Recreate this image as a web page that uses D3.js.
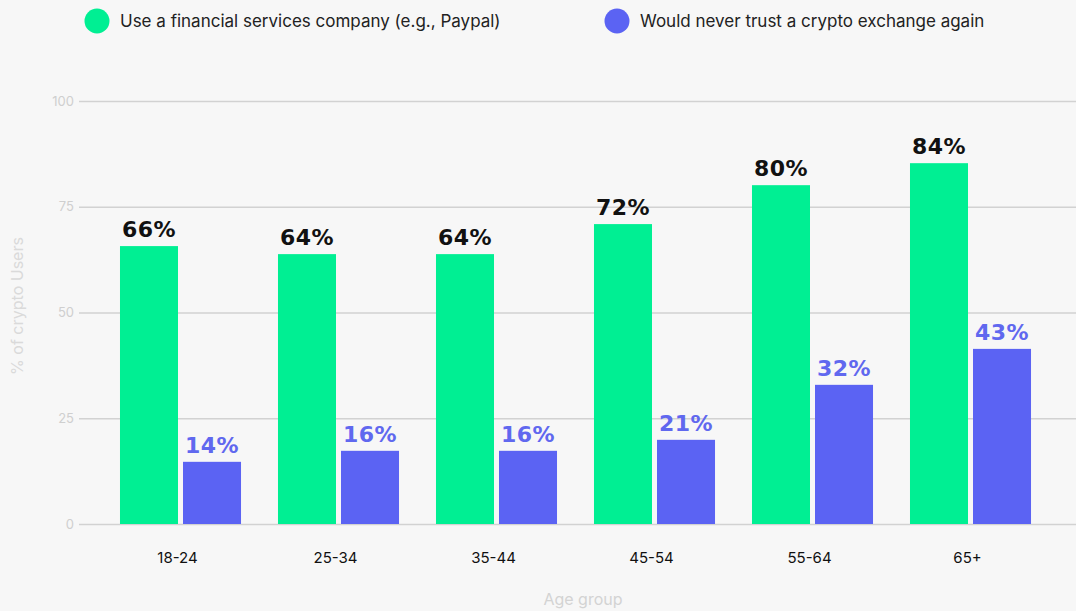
<!DOCTYPE html>
<html>
<head>
<meta charset="utf-8">
<script src="https://cdn.jsdelivr.net/npm/d3@7"></script>
<style>
  body { margin: 0; background: #f7f7f7; }
  svg { display: block; font-family: Inter, "Open Sans", sans-serif; }
</style>
</head>
<body>
<svg id="chart"></svg>
<script>
var w = 1076;
var h = 611;

// data
var ageGroups = ["18-24", "25-34", "35-44", "45-54", "55-64", "65+"];
var seriesNames = ["Use a financial services company (e.g., Paypal)", "Would never trust a crypto exchange again"];
var financialVals = [65.7, 63.8, 63.8, 70.9, 80.1, 85.3];
var neverTrustVals = [14.7, 17.3, 17.3, 19.9, 32.9, 41.4];
var financialLabels = ["66%", "64%", "64%", "72%", "80%", "84%"];
var neverTrustLabels = ["14%", "16%", "16%", "21%", "32%", "43%"];
var yTicks = [0, 25, 50, 75, 100];

var colors = ["#00ef93", "#5b63f3"];
var labelColors = ["#111111", "#6068ef"];

var svg = d3.select("#chart")
	.attr("width", w)
	.attr("height", h);

svg.append("rect")
	.attr("width", w)
	.attr("height", h)
	.attr("fill", "#f7f7f7");

var y = d3.scaleLinear()
	.domain([0, 100])
	.range([524, 101]);

var x = d3.scaleBand()
	.domain(ageGroups)
	.range([101.5, 1049.5])
	.paddingInner(0.234)
	.paddingOuter(0.117);

var gap = 5;
var barW = (x.bandwidth() - gap) / 2;

// gridlines + y tick labels
var yAxis = d3.axisLeft(y)
	.tickValues(yTicks)
	.tickSize(-(w - 79))
	.tickPadding(5);

var gy = svg.append("g")
	.attr("transform", "translate(79,0)")
	.call(yAxis);

gy.select(".domain").remove();
gy.selectAll(".tick line")
	.attr("stroke", "#d2d2d2")
	.attr("stroke-width", 1.5);
gy.selectAll(".tick text")
	.attr("fill", "#cfcfcf")
	.attr("font-size", 13)
	.attr("font-family", "Inter, sans-serif");

// bars
var series = [
	{ name: seriesNames[0], vals: financialVals, labels: financialLabels },
	{ name: seriesNames[1], vals: neverTrustVals, labels: neverTrustLabels }
];

series.forEach(function (s, si) {
	var g = svg.append("g");

	g.selectAll("rect")
		.data(ageGroups)
		.enter()
		.append("rect")
		.attr("x", function (d) { return x(d) + si * (barW + gap); })
		.attr("y", function (d, i) { return y(s.vals[i]); })
		.attr("width", barW)
		.attr("height", function (d, i) { return y(0) - y(s.vals[i]); })
		.attr("fill", colors[si]);

	g.selectAll("text")
		.data(ageGroups)
		.enter()
		.append("text")
		.attr("x", function (d) { return x(d) + si * (barW + gap) + barW / 2; })
		.attr("y", function (d, i) { return y(s.vals[i]) - 9; })
		.attr("text-anchor", "middle")
		.attr("font-family", "'DejaVu Sans', sans-serif")
		.attr("font-weight", "bold")
		.attr("font-size", 22)
		.attr("letter-spacing", 0.5)
		.attr("fill", labelColors[si])
		.text(function (d, i) { return s.labels[i]; });
});

// x labels
var xAxis = d3.axisBottom(x).tickSize(0).tickPadding(0);
var gx = svg.append("g")
	.attr("transform", "translate(-3,552)")
	.call(xAxis);
gx.select(".domain").remove();
gx.selectAll(".tick text")
	.attr("fill", "#111")
	.attr("font-size", 15)
	.attr("font-family", "Inter, sans-serif");

// axis titles
svg.append("text")
	.attr("x", 583)
	.attr("y", 605)
	.attr("text-anchor", "middle")
	.attr("font-size", 16)
	.attr("fill", "#d3d3d3")
	.text("Age group");

svg.append("text")
	.attr("transform", "translate(23,306) rotate(-90)")
	.attr("text-anchor", "middle")
	.attr("font-size", 16)
	.attr("fill", "#dadada")
	.text("% of crypto Users");

// legend
var legendX = [97, 617];
var legend = svg.selectAll(".legend")
	.data(seriesNames)
	.enter()
	.append("g")
	.attr("class", "legend")
	.attr("transform", function (d, i) { return "translate(" + legendX[i] + ",21)"; });

legend.append("circle")
	.attr("r", 12.5)
	.attr("fill", function (d, i) { return colors[i]; });

legend.append("text")
	.attr("x", 23)
	.attr("dy", "0.35em")
	.attr("font-size", 17)
	.attr("fill", "#222")
	.text(function (d) { return d; });
</script>
</body>
</html>
